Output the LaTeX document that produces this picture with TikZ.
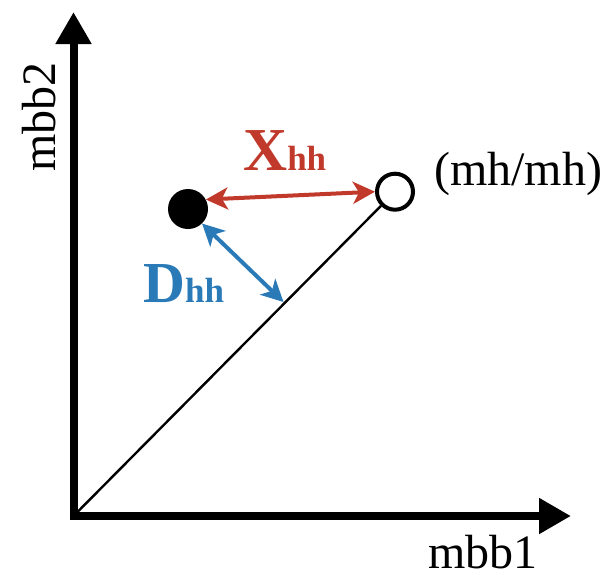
\documentclass[tikz,border=0pt]{standalone}
\usepackage{fontspec}
\setmainfont{Liberation Serif}
\usetikzlibrary{arrows.meta}
\definecolor{xred}{HTML}{C0392B}
\definecolor{dblue}{HTML}{2A7AB8}
\tikzset{
  axis/.style={line width=8pt, line join=miter, -{Triangle[length=32pt,width=34pt]}},
  lbl/.style={font=\fontsize{48}{48}\selectfont, inner sep=0pt, anchor=base},
  meas/.style={line width=4pt, {Stealth[length=22pt,width=22pt,inset=6pt]}-{Stealth[length=22pt,width=22pt,inset=6pt]}},
  dot/.style={circle, inner sep=0pt, minimum size=#1},
}
\begin{document}
\begin{tikzpicture}[x=1pt,y=-1pt]
\useasboundingbox (0,0) rectangle (610,574);
\coordinate (O) at (73.5,516);
\coordinate (ytip) at (73.5,12);
\coordinate (xtip) at (571,516);
\draw[axis] (O) -- (ytip);
\draw[axis] (69.5,516) -- (xtip);
\node[dot=36pt, draw, line width=4pt, fill=white] (open) at (395,191.7) {};
\node[dot=40pt, fill=black] (filled) at (188,209) {};
\draw[line width=2.4pt] (O) -- (open);
\coordinate (foot) at (283.5,302);
\draw[meas, xred] (filled.28) -- (open.west);
\draw[meas, dblue] (filled.-46) -- (foot);
\node[lbl] (mbb1) at (483,568) {mbb1};
\node[lbl, rotate=90] (mbb2) at (55,117) {mbb2};
\node[lbl, anchor=base west] (mh) at (434,185) {(mh/mh)};
\node[inner sep=0pt, anchor=base west, text=xred, font=\bfseries] (xlab) at (243,170) {\fontsize{61}{61}\selectfont X\fontsize{35}{35}\selectfont hh};
\node[inner sep=0pt, anchor=base west, text=dblue, font=\bfseries] (dlab) at (143,302) {\fontsize{58}{58}\selectfont D\fontsize{35}{35}\selectfont hh};
\end{tikzpicture}
\end{document}
